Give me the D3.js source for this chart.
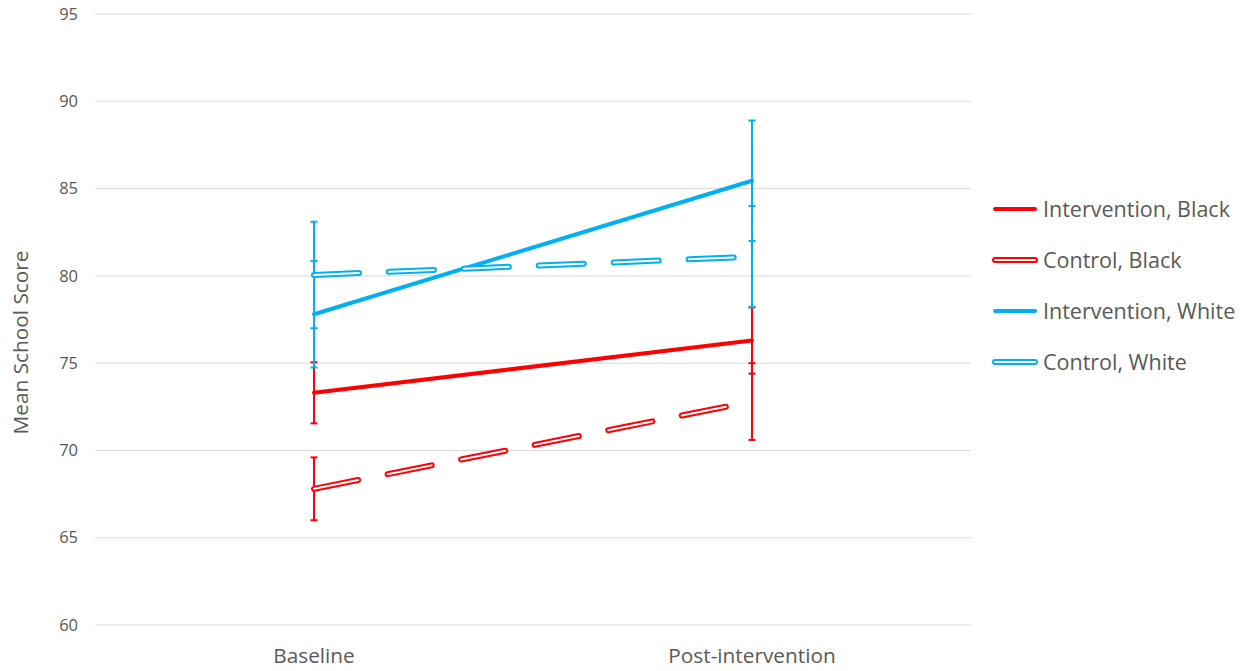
<!DOCTYPE html>
<html>
<head>
<meta charset="utf-8">
<script src="https://cdn.jsdelivr.net/npm/d3@7"></script>
<style>
  html, body { margin: 0; padding: 0; background: #fff; }
  svg { display: block; }
  text { font-family: "Open Sans", "Noto Sans", sans-serif; fill: #595959; }
</style>
</head>
<body>
<svg id="chart" width="1250" height="671"></svg>
<script>
// Time points on the x axis
const categories = ["Baseline", "Post-intervention"];

// Mean school score per group at each time point
const interventionBlack = [73.3, 76.3];
const controlBlack      = [67.8, 72.8];
const interventionWhite = [77.8, 85.45];
const controlWhite      = [80.05, 81.1];

// Half-width of the error bar for each point
const errInterventionBlack = [1.75, 1.9];
const errControlBlack      = [1.8, 2.2];
const errInterventionWhite = [3.05, 3.45];
const errControlWhite      = [3.05, 2.9];

const seriesNames  = ["Intervention, Black", "Control, Black", "Intervention, White", "Control, White"];
const seriesColors = ["#ff0000", "#ff0000", "#00b0f0", "#00b0f0"];
const seriesDashed = [false, true, false, true];

const yTicks = [60, 65, 70, 75, 80, 85, 90, 95];

const series = [
  { name: seriesNames[0], values: interventionBlack, err: errInterventionBlack, color: seriesColors[0], dashed: seriesDashed[0] },
  { name: seriesNames[1], values: controlBlack,      err: errControlBlack,      color: seriesColors[1], dashed: seriesDashed[1] },
  { name: seriesNames[2], values: interventionWhite, err: errInterventionWhite, color: seriesColors[2], dashed: seriesDashed[2] },
  { name: seriesNames[3], values: controlWhite,      err: errControlWhite,      color: seriesColors[3], dashed: seriesDashed[3] }
];

const svg = d3.select("#chart");
const plot = { left: 95, right: 971, top: 14, bottom: 625 };

const x = d3.scaleBand().domain(categories).range([plot.left, plot.right]);
const y = d3.scaleLinear().domain([60, 95]).range([plot.bottom, plot.top]);
const cx = c => x(c) + x.bandwidth() / 2;

// Horizontal gridlines
svg.append("g")
  .selectAll("line")
  .data(yTicks)
  .join("line")
  .attr("x1", plot.left).attr("x2", plot.right)
  .attr("y1", d => y(d)).attr("y2", d => y(d))
  .attr("stroke", "#d9d9d9").attr("stroke-width", 1);

// Y axis labels
const yAxis = svg.append("g")
  .attr("transform", `translate(${plot.left - 17},0)`)
  .call(d3.axisLeft(y).tickValues(yTicks).tickSize(0).tickPadding(0));
yAxis.select(".domain").remove();
yAxis.selectAll("text")
  .style("font-family", '"Open Sans", sans-serif')
  .attr("fill", "#595959").style("font-size", "16.5px");

// X axis labels
const xAxis = svg.append("g")
  .attr("transform", `translate(0,${plot.bottom})`)
  .call(d3.axisBottom(x).tickSize(0).tickPadding(23));
xAxis.select(".domain").remove();
xAxis.selectAll("text")
  .style("font-family", '"Open Sans", sans-serif')
  .attr("fill", "#595959").style("font-size", "20.8px");

// Y axis title
svg.append("text")
  .attr("transform", `translate(28,${(plot.top + plot.bottom) / 2 + 23}) rotate(-90)`)
  .attr("text-anchor", "middle")
  .style("font-size", "20.8px")
  .text("Mean School Score");

const line = d3.line().x((d, i) => cx(categories[i])).y(d => y(d));
const dash = "45,30";

// Error bars
series.forEach(s => {
  const g = svg.append("g");
  s.values.forEach((v, i) => {
    const px = cx(categories[i]);
    const lo = y(v - s.err[i]), hi = y(v + s.err[i]);
    g.append("line").attr("x1", px).attr("x2", px).attr("y1", lo).attr("y2", hi)
      .attr("stroke", s.color).attr("stroke-width", 2);
    [lo, hi].forEach(py => g.append("line")
      .attr("x1", px - 3.5).attr("x2", px + 3.5).attr("y1", py).attr("y2", py)
      .attr("stroke", s.color).attr("stroke-width", 2));
  });
});

// Series lines; control groups drawn as hollow dashed double strokes
series.forEach(s => {
  if (s.dashed) {
    svg.append("path").datum(s.values).attr("d", line)
      .attr("fill", "none").attr("stroke", s.color).attr("stroke-width", 6)
      .attr("stroke-linecap", "round").attr("stroke-dasharray", dash);
    svg.append("path").datum(s.values).attr("d", line)
      .attr("fill", "none").attr("stroke", "#fff").attr("stroke-width", 2)
      .attr("stroke-linecap", "round").attr("stroke-dasharray", dash);
  } else {
    svg.append("path").datum(s.values).attr("d", line)
      .attr("fill", "none").attr("stroke", s.color).attr("stroke-width", 4)
      .attr("stroke-linecap", "round");
  }
});

// Legend
const legend = svg.append("g").attr("transform", "translate(995,209)");
series.forEach((s, i) => {
  const g = legend.append("g").attr("transform", `translate(0,${i * 51})`);
  if (s.dashed) {
    g.append("line").attr("x1", 0).attr("x2", 40).attr("y1", 0).attr("y2", 0)
      .attr("stroke", s.color).attr("stroke-width", 6).attr("stroke-linecap", "round");
    g.append("line").attr("x1", 0).attr("x2", 40).attr("y1", 0).attr("y2", 0)
      .attr("stroke", "#fff").attr("stroke-width", 2).attr("stroke-linecap", "round");
  } else {
    g.append("line").attr("x1", 0).attr("x2", 40).attr("y1", 0).attr("y2", 0)
      .attr("stroke", s.color).attr("stroke-width", 4).attr("stroke-linecap", "round");
  }
  g.append("text").attr("x", 48).attr("y", 0).attr("dy", "0.35em")
    .style("font-size", "21.5px").text(s.name);
});
</script>
</body>
</html>
